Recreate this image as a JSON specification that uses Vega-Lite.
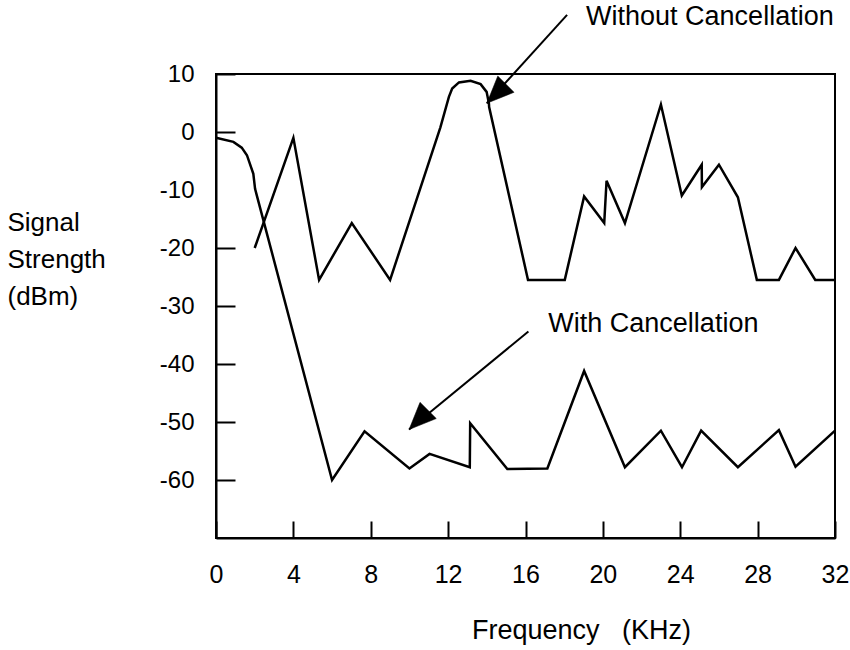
{
  "$schema": "https://vega.github.io/schema/vega-lite/v6.json",
  "width": 619,
  "height": 464,
  "autosize": {"type": "none"},
  "padding": {"left": 216, "top": 74, "right": 15, "bottom": 112},
  "background": "white",
  "config": {
    "view": {"stroke": "black", "strokeWidth": 2},
    "font": "Liberation Sans"
  },
  "datasets": {
    "curves": [
      {"series": "Without Cancellation", "i": 1, "freq": 2, "dBm": -20},
      {"series": "Without Cancellation", "i": 2, "freq": 4, "dBm": -1},
      {"series": "Without Cancellation", "i": 3, "freq": 5.33, "dBm": -25.5},
      {"series": "Without Cancellation", "i": 4, "freq": 7.02, "dBm": -15.7},
      {"series": "Without Cancellation", "i": 5, "freq": 9.0, "dBm": -25.5},
      {"series": "Without Cancellation", "i": 6, "freq": 11.6, "dBm": 0.8},
      {"series": "Without Cancellation", "i": 7, "freq": 12.04, "dBm": 6.06},
      {"series": "Without Cancellation", "i": 8, "freq": 12.21, "dBm": 7.5},
      {"series": "Without Cancellation", "i": 9, "freq": 12.56, "dBm": 8.55},
      {"series": "Without Cancellation", "i": 10, "freq": 13.16, "dBm": 8.82},
      {"series": "Without Cancellation", "i": 11, "freq": 13.68, "dBm": 8.25},
      {"series": "Without Cancellation", "i": 12, "freq": 13.99, "dBm": 6.92},
      {"series": "Without Cancellation", "i": 13, "freq": 14.11, "dBm": 4.9},
      {"series": "Without Cancellation", "i": 14, "freq": 14.12, "dBm": 4.3},
      {"series": "Without Cancellation", "i": 15, "freq": 16.13, "dBm": -25.5},
      {"series": "Without Cancellation", "i": 16, "freq": 18.03, "dBm": -25.5},
      {"series": "Without Cancellation", "i": 17, "freq": 19.03, "dBm": -11.1},
      {"series": "Without Cancellation", "i": 18, "freq": 20.07, "dBm": -15.7},
      {"series": "Without Cancellation", "i": 19, "freq": 20.19, "dBm": -8.4},
      {"series": "Without Cancellation", "i": 20, "freq": 21.14, "dBm": -15.7},
      {"series": "Without Cancellation", "i": 21, "freq": 23.0, "dBm": 4.74},
      {"series": "Without Cancellation", "i": 22, "freq": 24.08, "dBm": -10.95},
      {"series": "Without Cancellation", "i": 23, "freq": 25.11, "dBm": -5.64},
      {"series": "Without Cancellation", "i": 24, "freq": 25.12, "dBm": -9.5},
      {"series": "Without Cancellation", "i": 25, "freq": 26.0, "dBm": -5.64},
      {"series": "Without Cancellation", "i": 26, "freq": 26.98, "dBm": -11.25},
      {"series": "Without Cancellation", "i": 27, "freq": 27.96, "dBm": -25.5},
      {"series": "Without Cancellation", "i": 28, "freq": 29.1, "dBm": -25.5},
      {"series": "Without Cancellation", "i": 29, "freq": 29.96, "dBm": -20},
      {"series": "Without Cancellation", "i": 30, "freq": 30.98, "dBm": -25.5},
      {"series": "Without Cancellation", "i": 31, "freq": 32, "dBm": -25.5},
      {"series": "With Cancellation", "i": 1, "freq": 0, "dBm": -1},
      {"series": "With Cancellation", "i": 2, "freq": 0.9, "dBm": -1.7},
      {"series": "With Cancellation", "i": 3, "freq": 1.33, "dBm": -2.7},
      {"series": "With Cancellation", "i": 4, "freq": 1.6, "dBm": -4},
      {"series": "With Cancellation", "i": 5, "freq": 1.93, "dBm": -7.2},
      {"series": "With Cancellation", "i": 6, "freq": 2.02, "dBm": -9.8},
      {"series": "With Cancellation", "i": 7, "freq": 6.0, "dBm": -60},
      {"series": "With Cancellation", "i": 8, "freq": 7.68, "dBm": -51.6},
      {"series": "With Cancellation", "i": 9, "freq": 10.0, "dBm": -58},
      {"series": "With Cancellation", "i": 10, "freq": 11.04, "dBm": -55.5},
      {"series": "With Cancellation", "i": 11, "freq": 13.12, "dBm": -57.8},
      {"series": "With Cancellation", "i": 12, "freq": 13.14, "dBm": -50.2},
      {"series": "With Cancellation", "i": 13, "freq": 15.06, "dBm": -58.1},
      {"series": "With Cancellation", "i": 14, "freq": 17.13, "dBm": -58},
      {"series": "With Cancellation", "i": 15, "freq": 19.03, "dBm": -41.2},
      {"series": "With Cancellation", "i": 16, "freq": 21.14, "dBm": -57.8},
      {"series": "With Cancellation", "i": 17, "freq": 23.0, "dBm": -51.5},
      {"series": "With Cancellation", "i": 18, "freq": 24.09, "dBm": -57.8},
      {"series": "With Cancellation", "i": 19, "freq": 25.08, "dBm": -51.5},
      {"series": "With Cancellation", "i": 20, "freq": 26.98, "dBm": -57.8},
      {"series": "With Cancellation", "i": 21, "freq": 29.1, "dBm": -51.4},
      {"series": "With Cancellation", "i": 22, "freq": 29.96, "dBm": -57.7},
      {"series": "With Cancellation", "i": 23, "freq": 32, "dBm": -51.5}
    ],
    "notes": [
      {"label": "Without Cancellation", "freq": 19.13, "dBm": 19.8, "freq2": 18.15, "dBm2": 20.2, "tipFreq": 14.0, "tipDbm": 4.95},
      {"label": "With Cancellation", "freq": 17.18, "dBm": -33.1, "freq2": 16.15, "dBm2": -34.4, "tipFreq": 9.98, "tipDbm": -51.3}
    ]
  },
  "encoding": {
    "x": {
      "field": "freq", "type": "quantitative",
      "scale": {"domain": [0, 32], "nice": false, "zero": false},
      "axis": {
        "values": [0, 4, 8, 12, 16, 20, 24, 28, 32],
        "grid": false,
        "tickSize": -17, "tickColor": "black", "tickWidth": 2,
        "domainColor": "black", "domainWidth": 2,
        "labelFontSize": 25, "labelColor": "black", "labelFont": "Liberation Sans",
        "labelPadding": 53, "labelFlush": false, "labelOverlap": false, "labelBaseline": "middle",
        "title": "Frequency\u00a0\u00a0\u00a0(KHz)",
        "titleFontSize": 27, "titleFontWeight": "normal", "titleColor": "black", "titleFont": "Liberation Sans",
        "titleX": 365, "titleY": 92, "titleAlign": "center", "titleBaseline": "middle"
      }
    },
    "y": {
      "field": "dBm", "type": "quantitative",
      "scale": {"domain": [-70, 10], "nice": false, "zero": false},
      "axis": {
        "values": [10, 0, -10, -20, -30, -40, -50, -60],
        "grid": false,
        "tickSize": -19, "tickColor": "black", "tickWidth": 2,
        "tickOpacity": {"condition": {"test": "datum.value === -10", "value": 0}, "value": 1},
        "domainColor": "black", "domainWidth": 2,
        "labelFontSize": 24, "labelColor": "black", "labelFont": "Liberation Sans",
        "labelPadding": 41, "labelBaseline": "middle", "labelOverlap": false, "labelFlush": false,
        "labelExpr": "datum.value < 0 ? '-' + abs(datum.value) : '' + datum.value",
        "title": ["Signal", "Strength", "(dBm)"],
        "titleAngle": 0, "titleAlign": "left", "titleBaseline": "middle",
        "titleX": -209, "titleY": 148, "titleLineHeight": 37,
        "titleFontSize": 26, "titleFontWeight": "normal", "titleColor": "black", "titleFont": "Liberation Sans"
      }
    }
  },
  "layer": [
    {
      "data": {"name": "curves"},
      "mark": {"type": "line", "stroke": "black", "strokeWidth": 2.5, "interpolate": "linear", "strokeJoin": "miter"},
      "encoding": {
        "detail": {"field": "series", "type": "nominal"},
        "order": {"field": "i", "type": "quantitative"}
      }
    },
    {
      "data": {"name": "notes"},
      "mark": {"type": "text", "align": "left", "baseline": "middle", "fontSize": 27, "font": "Liberation Sans", "color": "black"},
      "encoding": {"text": {"field": "label"}}
    },
    {
      "data": {"name": "notes"},
      "mark": {"type": "rule", "stroke": "black", "strokeWidth": 2},
      "encoding": {
        "x": {"field": "freq2", "type": "quantitative"},
        "y": {"field": "dBm2", "type": "quantitative"},
        "x2": {"field": "tipFreq"},
        "y2": {"field": "tipDbm"}
      }
    },
    {
      "data": {"name": "notes"},
      "mark": {"type": "point", "shape": "M0,0L-0.85,2L0.85,2Z", "filled": true, "fill": "black", "stroke": "black", "strokeWidth": 0.5, "opacity": 1, "size": 729, "angle": 225},
      "encoding": {
        "x": {"field": "tipFreq", "type": "quantitative"},
        "y": {"field": "tipDbm", "type": "quantitative"}
      }
    }
  ]
}
